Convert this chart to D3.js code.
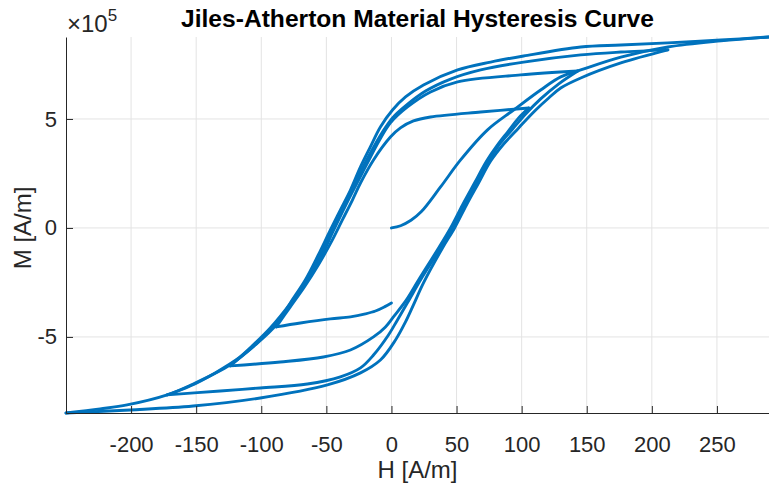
<!DOCTYPE html>
<html>
<head>
<meta charset="utf-8">
<script src="https://cdn.jsdelivr.net/npm/d3@7.9.0/dist/d3.min.js"></script>
<style>
  body { margin: 0; background: #fff; }
  text { font-family: "Liberation Sans", Arial, Helvetica, sans-serif; fill: #262626; }
</style>
</head>
<body>
<svg id="chart" width="769" height="484"></svg>
<script>
// tick values
const H_TICKS = [-200, -150, -100, -50, 0, 50, 100, 150, 200, 250];
const M_TICKS = [-5e5, 0, 5e5];
const M_UNIT = 1e5; // branch M values below are in units of 1e5 A/m

// branches of the loop, [H, M], in the order they are traced
const initial = [[0,0],[7,0.1],[15,0.35],[23,0.75],[37.7,1.88],[53.1,3.12],[73.8,4.50],[93.8,5.41],[114.6,6.33],[130,6.93],[145.4,7.25],[176.2,7.84],[212.3,8.30],[253.1,8.58],[290,8.76]];
const down290 = [[290,8.76],[253.1,8.62],[212.3,8.49],[176.2,8.39],[145.4,8.30],[101.5,7.89],[76.2,7.61],[50.8,7.25],[24.6,6.56],[10.8,6.01],[0.8,5.41],[-8.5,4.63],[-16.2,3.72],[-23.8,2.80],[-31.5,1.74],[-39.2,0.83],[-46.9,-0.09],[-56.2,-1.24],[-66.2,-2.39],[-77.7,-3.44],[-88.5,-4.45],[-104.6,-5.37],[-123.8,-6.28],[-152.3,-7.16],[-172.3,-7.66],[-203.1,-8.12],[-223.8,-8.30],[-250,-8.49]];
const up250 = [[-250,-8.49],[-200.8,-8.35],[-152.3,-8.17],[-100.8,-7.80],[-49.2,-7.20],[-23.8,-6.65],[-8.5,-6.06],[3.1,-5.14],[10.8,-4.31],[16.9,-3.53],[24.6,-2.52],[39.2,-0.92],[48.5,0],[57.7,1.06],[66.9,2.06],[76.2,3.07],[86.2,3.85],[97.7,4.59],[110.8,5.41],[120.8,5.96],[130,6.42],[145.4,6.88],[176.2,7.57],[212.3,8.17]];
const down212 = [[212.3,8.17],[176.2,8.07],[145.4,7.94],[101.5,7.61],[68.5,7.25],[45.4,6.83],[26.2,6.28],[10.8,5.60],[0.8,5.05],[-6.9,4.40],[-16.2,3.44],[-25.4,2.39],[-33.8,1.38],[-42.3,0.32],[-51.5,-0.83],[-61.5,-1.97],[-73.1,-3.12],[-85.4,-4.13],[-99.2,-5.05],[-116.2,-5.92],[-135.4,-6.65],[-154.6,-7.25],[-172.3,-7.66]];
const up172 = [[-172.3,-7.66],[-131.5,-7.48],[-100.8,-7.34],[-64.6,-7.16],[-39.2,-6.83],[-23.8,-6.42],[-13.8,-5.83],[-2.3,-4.91],[4.6,-4.22],[13.1,-3.35],[22.3,-2.39],[37.7,-0.92],[46.9,0],[56.2,1.06],[65.4,2.06],[74.6,3.07],[83.8,3.90],[93.1,4.54],[103.1,5.23],[114.6,5.92],[128.5,6.61],[143.1,7.20]];
const down143 = [[143.1,7.20],[99.2,7.02],[50.8,6.70],[30,6.24],[12.3,5.55],[-0.8,4.82],[-10,3.94],[-19.2,2.89],[-28.5,1.83],[-36.9,0.83],[-45.4,-0.23],[-54.6,-1.38],[-66.2,-2.48],[-78.5,-3.53],[-93.1,-4.59],[-108.5,-5.50],[-123.8,-6.33]];
const up124 = [[-123.8,-6.33],[-85.4,-6.15],[-52.3,-5.92],[-31.5,-5.60],[-13.8,-5.00],[-4.6,-4.54],[1.5,-4.08],[11.5,-3.30],[20.8,-2.39],[36.2,-0.92],[45.4,0],[54.6,1.06],[63.8,2.06],[73.1,3.07],[81.5,3.81],[89.2,4.40],[97.7,5.05],[105.4,5.50]];
const down105 = [[105.4,5.50],[68.5,5.32],[30,5.09],[16.9,4.91],[6.9,4.59],[-0.8,4.17],[-13.8,3.12],[-23.8,2.06],[-30,1.28],[-37.7,0.37],[-46.2,-0.64],[-56.2,-1.70],[-66.9,-2.71],[-77.7,-3.62],[-88.5,-4.54]];
const up88 = [[-88.5,-4.54],[-70,-4.36],[-46.9,-4.17],[-31.5,-4.08],[-20,-3.94],[-12.3,-3.81],[-5.4,-3.62],[0,-3.44]];

const branches = [initial, down290, up250, down212, up172, down143, up124, down105, up88];

const svg = d3.select('#chart');
const plotL = 66, plotR = 769, plotT = 37, plotB = 413;

const x = d3.scaleLinear().domain([-250, 290]).range([plotL, plotR]);
const y = d3.scaleLinear().domain([-8.49e5, 8.76e5]).range([plotB, plotT]);

svg.append('rect').attr('width', 769).attr('height', 484).attr('fill', '#fff');

// grid
svg.append('g').selectAll('line').data(H_TICKS).join('line')
  .attr('x1', d => x(d)).attr('x2', d => x(d))
  .attr('y1', plotT).attr('y2', plotB)
  .attr('stroke', '#e3e3e3').attr('stroke-width', 1);
svg.append('g').selectAll('line').data(M_TICKS).join('line')
  .attr('x1', plotL).attr('x2', plotR)
  .attr('y1', d => y(d)).attr('y2', d => y(d))
  .attr('stroke', '#e3e3e3').attr('stroke-width', 1);

// the curve
const line = d3.line()
  .x(d => x(d[0]))
  .y(d => y(d[1] * M_UNIT))
  .curve(d3.curveCatmullRom.alpha(0.5));

svg.append('g').selectAll('path').data(branches).join('path')
  .attr('d', line)
  .attr('fill', 'none')
  .attr('stroke', '#0072BD')
  .attr('stroke-width', 2.9)
  .attr('stroke-linejoin', 'round')
  .attr('stroke-linecap', 'round');

// axes
const xAxis = svg.append('g')
  .attr('transform', `translate(0,${plotB})`)
  .call(d3.axisBottom(x).tickValues(H_TICKS).tickSize(-7).tickSizeOuter(0).tickPadding(23)
    .tickFormat(d => String(d)));
const yAxis = svg.append('g')
  .attr('transform', `translate(${plotL},0)`)
  .call(d3.axisLeft(y).tickValues(M_TICKS).tickSize(-7).tickSizeOuter(0).tickPadding(9)
    .tickFormat(d => String(d / M_UNIT)));

[xAxis, yAxis].forEach(g => {
  g.select('.domain').attr('stroke', '#262626');
  g.selectAll('.tick line').attr('stroke', '#262626');
  g.selectAll('.tick text').attr('font-size', 22).attr('fill', '#262626')
    .style('font-family', '"Liberation Sans", Arial, Helvetica, sans-serif');
});

// labels
svg.append('text')
  .attr('x', (plotL + plotR) / 2).attr('y', 27)
  .attr('text-anchor', 'middle')
  .attr('font-size', 24.6).attr('font-weight', 'bold')
  .style('fill', '#000')
  .text('Jiles-Atherton Material Hysteresis Curve');

svg.append('text')
  .attr('x', (plotL + plotR) / 2).attr('y', 478)
  .attr('text-anchor', 'middle')
  .attr('font-size', 24)
  .text('H [A/m]');

svg.append('text')
  .attr('transform', `translate(31,${y(0)}) rotate(-90)`)
  .attr('text-anchor', 'middle')
  .attr('font-size', 24)
  .text('M [A/m]');

const expo = svg.append('text').attr('x', 67).attr('y', 32).attr('font-size', 24);
expo.append('tspan').text('\u00d710');
expo.append('tspan').attr('font-size', 17).attr('dy', -11).text('5');
</script>
</body>
</html>
